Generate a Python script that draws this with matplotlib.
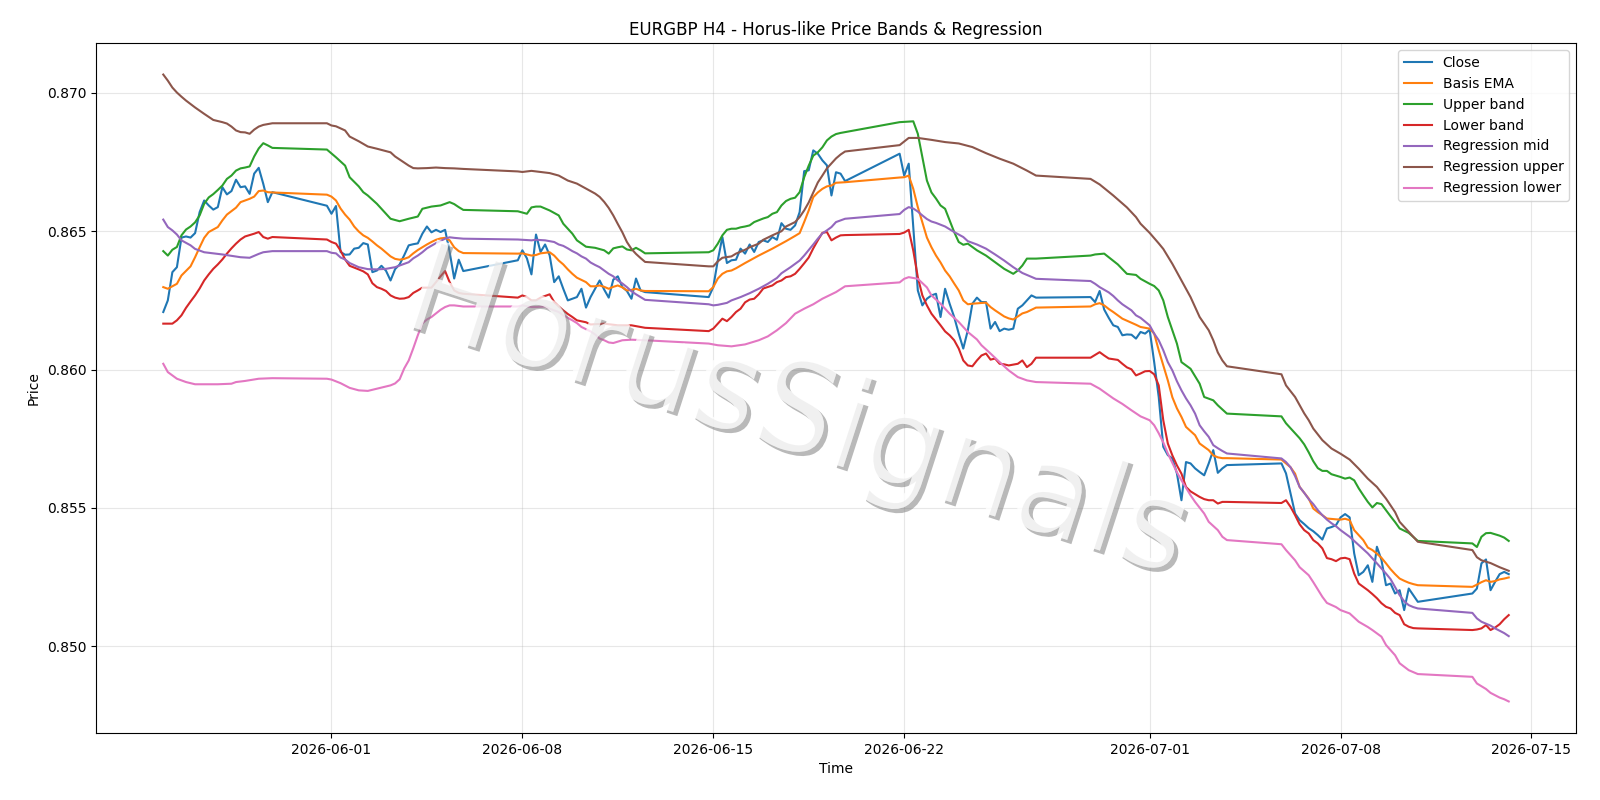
import numpy as np
import pandas as pd
import matplotlib
matplotlib.use("Agg")
import matplotlib.pyplot as plt
import matplotlib.patheffects as pe

# H4 bars (UTC), one run per trading stretch between gaps
seg_starts = ["2026-05-25 20:00", "2026-05-31 20:00", "2026-06-07 20:00", "2026-06-14 20:00",
              "2026-06-21 20:00", "2026-06-28 20:00", "2026-07-05 20:00", "2026-07-12 20:00"]
seg_bars = [25, 31, 29, 31, 31, 31, 31, 9]

close = [
    # week of 05-25
    0.86208, 0.86250, 0.86352, 0.86370, 0.86477, 0.86481, 0.86477, 0.86493, 0.86569, 0.86611,
    0.86593, 0.86578, 0.86587, 0.86659, 0.86633, 0.86645, 0.86686, 0.86659, 0.86662, 0.86635,
    0.86708, 0.86729, 0.86671, 0.86605, 0.86641,
    # week of 06-01
    0.86592, 0.86563, 0.86591, 0.86425, 0.86415, 0.86416, 0.86437, 0.86440, 0.86457, 0.86452,
    0.86352, 0.86358, 0.86375, 0.86357, 0.86322, 0.86363, 0.86380, 0.86413, 0.86449, 0.86453,
    0.86456, 0.86491, 0.86517, 0.86496, 0.86505, 0.86497, 0.86505, 0.86425, 0.86329, 0.86397,
    0.86356,
    # week of 06-08
    0.86395, 0.86431, 0.86402, 0.86344, 0.86488, 0.86425, 0.86452, 0.86413, 0.86316, 0.86337,
    0.86292, 0.86250, 0.86256, 0.86262, 0.86292, 0.86224, 0.86262, 0.86292, 0.86322, 0.86289,
    0.86260, 0.86325, 0.86337, 0.86298, 0.86284, 0.86256, 0.86329, 0.86286, 0.86280,
    # week of 06-15
    0.86262, 0.86298, 0.86395, 0.86479, 0.86385, 0.86395, 0.86397, 0.86437, 0.86419, 0.86452,
    0.86425, 0.86461, 0.86467, 0.86461, 0.86479, 0.86469, 0.86529, 0.86509, 0.86505, 0.86521,
    0.86569, 0.86717, 0.86720, 0.86792, 0.86780, 0.86756, 0.86738, 0.86629, 0.86713, 0.86708,
    0.86681,
    # week of 06-22
    0.86780, 0.86701, 0.86744, 0.86515, 0.86286, 0.86232, 0.86256, 0.86268, 0.86274, 0.86190,
    0.86292, 0.86238, 0.86190, 0.86130, 0.86076, 0.86142, 0.86238, 0.86260, 0.86244, 0.86244,
    0.86148, 0.86172, 0.86139, 0.86148, 0.86144, 0.86148, 0.86220, 0.86232, 0.86250, 0.86268,
    0.86260,
    # week of 06-29
    0.86262, 0.86244, 0.86284, 0.86217, 0.86187, 0.86160, 0.86154, 0.86124, 0.86127, 0.86126,
    0.86112, 0.86136, 0.86130, 0.86144, 0.86027, 0.85901, 0.85721, 0.85691, 0.85679, 0.85625,
    0.85528, 0.85666, 0.85661, 0.85643, 0.85630, 0.85618, 0.85661, 0.85709, 0.85627, 0.85643,
    0.85655,
    # week of 07-06
    0.85661, 0.85625, 0.85552, 0.85480, 0.85456, 0.85442, 0.85427, 0.85416, 0.85402, 0.85386,
    0.85426, 0.85431, 0.85438, 0.85466, 0.85478, 0.85466, 0.85336, 0.85257, 0.85269, 0.85293,
    0.85233, 0.85360, 0.85312, 0.85221, 0.85227, 0.85191, 0.85203, 0.85131, 0.85209, 0.85185,
    0.85161,
    # week of 07-13
    0.85191, 0.85209, 0.85300, 0.85314, 0.85203, 0.85233, 0.85261, 0.85269, 0.85261,
]

# smoother series read at selected bars (bar number, value)
ema_bar = [0, 1, 3, 4, 6, 7, 8, 9, 10, 12, 13, 14, 16, 17, 19, 20, 21, 22, 23, 24,
           25, 26, 27, 28, 29, 30, 31, 32, 33, 34, 35, 36, 37, 38, 39, 40, 41, 42, 43, 44,
           45, 46, 47, 48, 49, 50, 51, 52, 53, 54, 55,
           56, 57, 58, 59, 60, 61, 62, 63, 64, 65, 66, 67, 68, 69, 70, 71, 72, 73, 74, 75,
           76, 77, 78, 79, 80, 81, 82, 83, 84,
           85, 86, 87, 88, 89, 90, 91, 93, 96, 99, 102, 104, 105, 106, 107, 108, 109, 110,
           111, 112, 113, 114, 115,
           116, 117, 118, 119, 120, 121, 122, 123, 124, 125, 126, 127, 128, 129, 130, 131,
           132, 135, 136, 137, 138, 139, 140, 141, 142, 143, 144, 145, 146,
           147, 148, 149, 150, 151, 152, 154, 157, 158, 160, 161, 162, 163, 164, 165, 166,
           167, 168, 170, 171, 173, 174, 175, 176, 177,
           178, 179, 180, 181, 182, 183, 184, 185, 186, 187, 188, 190, 191, 192, 193, 194,
           195, 196, 197, 198, 199, 200, 201, 202, 203, 204, 205, 206, 207, 208,
           209, 210, 211, 212, 213, 214, 215, 216, 217]
ema = [0.86298, 0.86292, 0.86310, 0.86340, 0.86373, 0.86406, 0.86442, 0.86476, 0.86497, 0.86515,
       0.86539, 0.86560, 0.86585, 0.86605, 0.86617, 0.86625, 0.86645, 0.86647, 0.86641, 0.86640,
       0.86632, 0.86625, 0.86611, 0.86582, 0.86560, 0.86542, 0.86517, 0.86499, 0.86485, 0.86476,
       0.86463, 0.86449, 0.86437, 0.86423, 0.86409, 0.86400, 0.86397, 0.86400, 0.86406, 0.86420,
       0.86432, 0.86442, 0.86452, 0.86461, 0.86469, 0.86474, 0.86476, 0.86467, 0.86442, 0.86428,
       0.86421,
       0.86419, 0.86420, 0.86416, 0.86412, 0.86414, 0.86420, 0.86422, 0.86424, 0.86412, 0.86394,
       0.86380, 0.86362, 0.86346, 0.86332, 0.86324, 0.86316, 0.86301, 0.86301, 0.86304, 0.86299,
       0.86292, 0.86299, 0.86304, 0.86297, 0.86286, 0.86288, 0.86292, 0.86286, 0.86284,
       0.86283, 0.86298, 0.86329, 0.86346, 0.86355, 0.86358, 0.86366, 0.86385, 0.86412, 0.86437,
       0.86464, 0.86483, 0.86493, 0.86533, 0.86575, 0.86623, 0.86640, 0.86653, 0.86662, 0.86665,
       0.86675, 0.86676, 0.86677,
       0.86694, 0.86695, 0.86701, 0.86653, 0.86587, 0.86532, 0.86477, 0.86442, 0.86412, 0.86387,
       0.86358, 0.86337, 0.86311, 0.86286, 0.86250, 0.86236, 0.86238, 0.86242, 0.86226, 0.86214,
       0.86203, 0.86192, 0.86185, 0.86181, 0.86192, 0.86203, 0.86208, 0.86216, 0.86224,
       0.86228, 0.86236, 0.86240, 0.86232, 0.86219, 0.86208, 0.86184, 0.86162, 0.86154, 0.86148,
       0.86130, 0.86070, 0.86015, 0.85961, 0.85900, 0.85860, 0.85829, 0.85793, 0.85763, 0.85733,
       0.85709, 0.85690, 0.85683, 0.85680, 0.85680,
       0.85675, 0.85661, 0.85647, 0.85624, 0.85576, 0.85555, 0.85534, 0.85498, 0.85485, 0.85474,
       0.85462, 0.85459, 0.85458, 0.85461, 0.85456, 0.85420, 0.85402, 0.85384, 0.85357, 0.85348,
       0.85335, 0.85320, 0.85300, 0.85279, 0.85261, 0.85245, 0.85237, 0.85230, 0.85225, 0.85221,
       0.85215, 0.85223, 0.85232, 0.85239, 0.85233, 0.85236, 0.85242, 0.85245, 0.85249]

upper_bar = [0, 1, 2, 3, 4, 5, 6, 7, 8, 9, 10, 11, 12, 13, 14, 15, 16, 17, 18, 19, 20, 21, 22, 23, 24,
             25, 26, 27, 29, 30, 32, 33, 34, 36, 38, 39, 41, 43, 45, 46, 48, 50, 52, 53, 54, 55,
             56, 58, 59, 60, 61, 63, 65, 66, 68, 69, 71, 73, 75, 76, 77, 78, 79, 80, 81, 82, 83, 84,
             85, 86, 87, 88, 89, 90, 91, 92, 93, 94, 95, 97, 98, 99, 100, 101, 102, 103, 104, 105,
             106, 107, 108, 109, 110, 111, 112, 113, 114, 115,
             116, 119, 120, 121, 122, 123, 124, 125, 126, 127, 128, 129, 130, 131, 133, 135, 137,
             139, 141, 142, 143, 144, 146,
             147, 148, 150, 151, 153, 155, 157, 158, 160, 161, 162, 163, 164, 166, 167, 169, 171,
             172, 174, 175, 177,
             178, 179, 180, 181, 182, 183, 184, 185, 186, 187, 188, 189, 191, 192, 193, 194, 195,
             196, 197, 198, 199, 200, 201, 202, 203, 204, 206, 208,
             209, 210, 211, 212, 213, 214, 215, 216, 217]
upper = [0.86428, 0.86412, 0.86433, 0.86443, 0.86485, 0.86506, 0.86517, 0.86532, 0.86557, 0.86599,
         0.86622, 0.86634, 0.86649, 0.86665, 0.86689, 0.86701, 0.86719, 0.86727, 0.86730, 0.86734,
         0.86770, 0.86799, 0.86818, 0.86810, 0.86801,
         0.86795, 0.86781, 0.86767, 0.86737, 0.86695, 0.86662, 0.86641, 0.86629, 0.86599, 0.86563,
         0.86545, 0.86536, 0.86545, 0.86553, 0.86581, 0.86589, 0.86593, 0.86605, 0.86598, 0.86587,
         0.86577,
         0.86572, 0.86563, 0.86586, 0.86589, 0.86589, 0.86575, 0.86557, 0.86527, 0.86491, 0.86467,
         0.86444, 0.86440, 0.86431, 0.86419, 0.86438, 0.86442, 0.86445, 0.86434, 0.86431, 0.86440,
         0.86431, 0.86420,
         0.86424, 0.86431, 0.86455, 0.86485, 0.86505, 0.86509, 0.86509, 0.86514, 0.86517, 0.86521,
         0.86533, 0.86546, 0.86551, 0.86563, 0.86569, 0.86593, 0.86609, 0.86617, 0.86621, 0.86641,
         0.86695, 0.86737, 0.86773, 0.86785, 0.86803, 0.86828, 0.86842, 0.86851, 0.86855, 0.86858,
         0.86894, 0.86897, 0.86852, 0.86767, 0.86683, 0.86640, 0.86618, 0.86593, 0.86581, 0.86539,
         0.86497, 0.86461, 0.86451, 0.86455, 0.86431, 0.86412, 0.86388, 0.86364, 0.86346, 0.86358,
         0.86376, 0.86401, 0.86401,
         0.86412, 0.86416, 0.86419, 0.86406, 0.86380, 0.86346, 0.86342, 0.86328, 0.86310, 0.86302,
         0.86286, 0.86250, 0.86190, 0.86094, 0.86027, 0.86003, 0.85949, 0.85901, 0.85889, 0.85871,
         0.85841,
         0.85831, 0.85806, 0.85788, 0.85770, 0.85752, 0.85730, 0.85701, 0.85669, 0.85644, 0.85634,
         0.85634, 0.85622, 0.85612, 0.85606, 0.85610, 0.85600, 0.85571, 0.85546, 0.85522, 0.85502,
         0.85518, 0.85514, 0.85492, 0.85470, 0.85449, 0.85426, 0.85410, 0.85381,
         0.85372, 0.85359, 0.85396, 0.85409, 0.85410, 0.85405, 0.85400, 0.85393, 0.85381]

lower_bar = [0, 2, 3, 4, 5, 6, 7, 8, 9, 10, 11, 12, 13, 14, 15, 16, 17, 18, 19, 20, 21, 22, 23, 24,
             25, 26, 27, 28, 29, 30, 32, 33, 34, 35, 36, 37, 38, 39, 40, 41, 42, 43, 44, 45, 46, 48,
             49, 50, 51, 52, 53, 54, 55,
             56, 57, 58, 59, 60, 61, 63, 64, 65, 66, 67, 68, 69, 71, 72, 75, 78, 81, 84,
             85, 86, 87, 88, 89, 90, 91, 92, 93, 94, 95, 96, 97, 99, 100, 101, 102, 103, 104, 105,
             106, 107, 108, 109, 110, 111, 112, 113, 114, 115,
             116, 117, 118, 119, 120, 121, 122, 123, 124, 125, 126, 127, 128, 129, 130, 131, 132,
             133, 134, 135, 136, 137, 138, 139, 140, 141, 142, 143, 144, 145, 146,
             147, 149, 150, 151, 153, 154, 155, 156, 157, 158, 159, 160, 161, 162, 163, 164, 165,
             166, 167, 168, 169, 170, 171, 172, 173, 174, 175, 176, 177,
             178, 179, 180, 181, 182, 183, 184, 185, 186, 187, 188, 189, 190, 191, 192, 193, 194,
             195, 196, 197, 198, 199, 200, 201, 202, 203, 204, 205, 206, 207, 208,
             209, 210, 211, 212, 213, 214, 215, 216, 217]
lower = [0.86166, 0.86166, 0.86178, 0.86196, 0.86223, 0.86246, 0.86268, 0.86293, 0.86322, 0.86344,
         0.86364, 0.86380, 0.86398, 0.86419, 0.86438, 0.86455, 0.86470, 0.86481, 0.86486, 0.86491,
         0.86497, 0.86479, 0.86473, 0.86479,
         0.86470, 0.86461, 0.86455, 0.86430, 0.86398, 0.86375, 0.86362, 0.86355, 0.86344, 0.86312,
         0.86298, 0.86292, 0.86284, 0.86268, 0.86260, 0.86256, 0.86257, 0.86262, 0.86277, 0.86286,
         0.86296, 0.86296, 0.86316, 0.86337, 0.86356, 0.86316, 0.86286, 0.86277, 0.86274,
         0.86260, 0.86268, 0.86262, 0.86250, 0.86250, 0.86260, 0.86272, 0.86244, 0.86228, 0.86214,
         0.86201, 0.86190, 0.86178, 0.86171, 0.86163, 0.86166, 0.86160, 0.86160, 0.86151,
         0.86139, 0.86148, 0.86166, 0.86184, 0.86175, 0.86190, 0.86208, 0.86220, 0.86243, 0.86253,
         0.86256, 0.86272, 0.86293, 0.86304, 0.86316, 0.86322, 0.86334, 0.86337, 0.86346, 0.86364,
         0.86384, 0.86405, 0.86438, 0.86467, 0.86494, 0.86497, 0.86467, 0.86477, 0.86485, 0.86486,
         0.86490, 0.86495, 0.86505, 0.86430, 0.86334, 0.86268, 0.86232, 0.86202, 0.86181, 0.86160,
         0.86138, 0.86124, 0.86106, 0.86076, 0.86033, 0.86015, 0.86012, 0.86033, 0.86051, 0.86058,
         0.86036, 0.86040, 0.86021, 0.86019, 0.86015, 0.86018, 0.86021, 0.86033, 0.86009, 0.86021,
         0.86043,
         0.86043, 0.86063, 0.86051, 0.86040, 0.86035, 0.86021, 0.86008, 0.86001, 0.85979, 0.85986,
         0.85994, 0.85995, 0.85983, 0.85943, 0.85817, 0.85733, 0.85690, 0.85654, 0.85624, 0.85576,
         0.85560, 0.85550, 0.85540, 0.85532, 0.85528, 0.85528, 0.85516, 0.85522, 0.85522,
         0.85518, 0.85528, 0.85504, 0.85474, 0.85441, 0.85420, 0.85408, 0.85384, 0.85372, 0.85354,
         0.85319, 0.85315, 0.85308, 0.85318, 0.85320, 0.85315, 0.85263, 0.85227, 0.85215, 0.85203,
         0.85189, 0.85174, 0.85156, 0.85143, 0.85137, 0.85121, 0.85113, 0.85080, 0.85071, 0.85066,
         0.85065,
         0.85059, 0.85061, 0.85065, 0.85077, 0.85059, 0.85068, 0.85080, 0.85098, 0.85113]

reg_mid_bar = [0, 1, 2, 3, 4, 5, 6, 7, 9, 11, 13, 15, 17, 19, 20, 21, 22, 24,
               25, 26, 27, 28, 29, 30, 32, 34, 36, 38, 40, 41, 43, 44, 45, 46, 47, 49, 51, 52, 53, 55,
               56, 57, 59, 60, 62, 64, 65, 66, 67, 68, 69, 70, 71, 72, 73, 74, 75, 76, 77, 78, 79,
               80, 81, 82, 83, 84,
               85, 86, 87, 89, 90, 92, 94, 96, 98, 100, 101, 103, 104, 105, 106, 107, 108, 109, 110,
               111, 112, 113, 114, 115,
               116, 117, 118, 119, 120, 121, 122, 123, 124, 126, 128, 130, 131, 133, 135, 137, 139,
               141, 143, 146,
               147, 148, 149, 151, 152, 153, 154, 155, 156, 157, 158, 160, 161, 162, 163, 164, 165,
               166, 167, 168, 169, 170, 171, 172, 173, 174, 175, 176, 177,
               178, 179, 180, 181, 182, 183, 184, 185, 186, 187, 188, 189, 190, 191, 193, 195, 197,
               199, 201, 202, 203, 204, 205, 206, 207, 208,
               209, 210, 211, 213, 214, 216, 217]
reg_mid = [0.86542, 0.86515, 0.86503, 0.86488, 0.86467, 0.86458, 0.86449, 0.86436, 0.86424, 0.86420,
           0.86416, 0.86411, 0.86406, 0.86404, 0.86411, 0.86418, 0.86424, 0.86428,
           0.86428, 0.86422, 0.86420, 0.86405, 0.86398, 0.86385, 0.86370, 0.86363, 0.86362, 0.86364,
           0.86370, 0.86376, 0.86388, 0.86402, 0.86412, 0.86424, 0.86438, 0.86457, 0.86473, 0.86478,
           0.86476, 0.86473,
           0.86470, 0.86469, 0.86467, 0.86469, 0.86467, 0.86461, 0.86452, 0.86447, 0.86438, 0.86428,
           0.86420, 0.86409, 0.86401, 0.86387, 0.86378, 0.86370, 0.86358, 0.86346, 0.86337, 0.86322,
           0.86311, 0.86298, 0.86283, 0.86272, 0.86262, 0.86252,
           0.86236, 0.86232, 0.86234, 0.86241, 0.86250, 0.86262, 0.86276, 0.86292, 0.86310, 0.86331,
           0.86348, 0.86370, 0.86382, 0.86394, 0.86412, 0.86432, 0.86452, 0.86473, 0.86492, 0.86503,
           0.86515, 0.86533, 0.86539, 0.86545,
           0.86562, 0.86577, 0.86587, 0.86582, 0.86571, 0.86557, 0.86544, 0.86535, 0.86530, 0.86517,
           0.86497, 0.86479, 0.86464, 0.86452, 0.86437, 0.86416, 0.86394, 0.86370, 0.86349, 0.86328,
           0.86320, 0.86310, 0.86298, 0.86279, 0.86266, 0.86250, 0.86236, 0.86225, 0.86214, 0.86196,
           0.86187, 0.86160, 0.86130, 0.86106, 0.86070, 0.86027, 0.85997, 0.85958, 0.85925, 0.85896,
           0.85871, 0.85841, 0.85799, 0.85777, 0.85757, 0.85727, 0.85716, 0.85706, 0.85697,
           0.85679, 0.85666, 0.85647, 0.85615, 0.85576, 0.85555, 0.85532, 0.85514, 0.85492, 0.85474,
           0.85458, 0.85445, 0.85434, 0.85420, 0.85396, 0.85366, 0.85336, 0.85300, 0.85263, 0.85243,
           0.85214, 0.85185, 0.85163, 0.85149, 0.85142, 0.85137,
           0.85121, 0.85101, 0.85089, 0.85075, 0.85065, 0.85048, 0.85037]

reg_up_bar = [0, 1, 2, 3, 4, 5, 7, 9, 11, 13, 14, 15, 16, 17, 18, 19, 20, 21, 22, 24,
              25, 26, 27, 29, 30, 32, 34, 36, 39, 40, 41, 42, 43, 44, 45, 47, 49, 51, 53, 55,
              56, 57, 59, 61, 63, 65, 67, 69, 71, 72, 73, 74, 75, 76, 77, 78, 79, 80, 81, 82, 83, 84,
              85, 86, 87, 88, 90, 91, 93, 94, 96, 97, 99, 101, 102, 104, 105, 106, 107, 108, 109,
              110, 111, 112, 113, 114, 115,
              116, 118, 120, 123, 126, 129, 132, 135, 138, 141, 144, 146,
              147, 149, 152, 155, 157, 158, 160, 162, 163, 165, 167, 169, 171, 173, 174, 175, 176, 177,
              178, 179, 181, 183, 184, 185, 187, 189, 191, 193, 195, 197, 199, 201, 203, 204, 206, 208,
              209, 210, 211, 213, 215, 217]
reg_up = [0.87066, 0.87044, 0.87019, 0.87001, 0.86986, 0.86972, 0.86947, 0.86924, 0.86902, 0.86894,
          0.86889, 0.86878, 0.86864, 0.86858, 0.86857, 0.86852, 0.86867, 0.86878, 0.86884, 0.86890,
          0.86890, 0.86882, 0.86879, 0.86864, 0.86842, 0.86825, 0.86806, 0.86798, 0.86785, 0.86770,
          0.86759, 0.86748, 0.86737, 0.86728, 0.86727, 0.86728, 0.86730, 0.86728, 0.86727, 0.86725,
          0.86716, 0.86714, 0.86718, 0.86714, 0.86710, 0.86701, 0.86683, 0.86672, 0.86654, 0.86645,
          0.86636, 0.86624, 0.86606, 0.86584, 0.86557, 0.86526, 0.86496, 0.86461, 0.86436, 0.86418,
          0.86403, 0.86389,
          0.86373, 0.86373, 0.86391, 0.86404, 0.86409, 0.86419, 0.86433, 0.86442, 0.86455, 0.86469,
          0.86485, 0.86500, 0.86517, 0.86533, 0.86551, 0.86575, 0.86604, 0.86640, 0.86676, 0.86701,
          0.86727, 0.86745, 0.86763, 0.86777, 0.86788,
          0.86811, 0.86837, 0.86837, 0.86830, 0.86822, 0.86817, 0.86804, 0.86782, 0.86762, 0.86744,
          0.86719, 0.86701,
          0.86689, 0.86669, 0.86629, 0.86586, 0.86551, 0.86527, 0.86494, 0.86456, 0.86436, 0.86382,
          0.86322, 0.86262, 0.86190, 0.86142, 0.86106, 0.86062, 0.86033, 0.86012,
          0.85983, 0.85943, 0.85901, 0.85842, 0.85817, 0.85787, 0.85745, 0.85715, 0.85696, 0.85675,
          0.85642, 0.85606, 0.85576, 0.85534, 0.85485, 0.85450, 0.85414, 0.85378,
          0.85348, 0.85322, 0.85311, 0.85301, 0.85286, 0.85273]

reg_lo_bar = [0, 1, 3, 5, 7, 12, 15, 16, 18, 21, 24,
              25, 26, 28, 30, 32, 34, 36, 39, 40, 41, 42, 43, 44, 45, 46, 47, 48, 49, 50, 51, 52, 53, 55,
              56, 57, 59, 60, 62, 63, 65, 66, 68, 69, 70, 72, 73, 74, 75, 76, 77, 79, 81, 84,
              85, 87, 90, 93, 96, 98, 100, 102, 104, 106, 108, 110, 113, 115,
              116, 117, 118, 120, 122, 123, 125, 127, 129, 131, 133, 134, 136, 138, 140, 142, 144, 146,
              147, 149, 152, 154, 156, 158, 160, 161, 162, 163, 164, 166, 167, 169, 170, 172, 173,
              175, 176, 177,
              178, 179, 181, 182, 184, 185, 187, 188, 190, 191, 193, 195, 197, 198, 200, 201, 203,
              204, 206, 208,
              209, 210, 212, 213, 215, 216, 217]
reg_lo = [0.86021, 0.85991, 0.85967, 0.85955, 0.85947, 0.85947, 0.85949, 0.85955, 0.85959, 0.85967,
          0.85969,
          0.85967, 0.85964, 0.85951, 0.85934, 0.85925, 0.85923, 0.85931, 0.85943, 0.85950, 0.85965,
          0.86004, 0.86033, 0.86077, 0.86124, 0.86167, 0.86181, 0.86190, 0.86203, 0.86216, 0.86226,
          0.86232, 0.86232, 0.86228,
          0.86228, 0.86232, 0.86226, 0.86226, 0.86228, 0.86220, 0.86208, 0.86196, 0.86178, 0.86168,
          0.86154, 0.86138, 0.86127, 0.86112, 0.86106, 0.86098, 0.86096, 0.86106, 0.86108, 0.86106,
          0.86094, 0.86088, 0.86084, 0.86091, 0.86106, 0.86120, 0.86142, 0.86168, 0.86202, 0.86220,
          0.86236, 0.86256, 0.86280, 0.86301,
          0.86315, 0.86328, 0.86334, 0.86328, 0.86297, 0.86268, 0.86238, 0.86202, 0.86172, 0.86136,
          0.86109, 0.86088, 0.86058, 0.86027, 0.85997, 0.85973, 0.85961, 0.85955,
          0.85949, 0.85931, 0.85896, 0.85876, 0.85853, 0.85831, 0.85817, 0.85799, 0.85770, 0.85737,
          0.85697, 0.85629, 0.85600, 0.85546, 0.85522, 0.85480, 0.85450, 0.85420, 0.85396, 0.85384,
          0.85369, 0.85348, 0.85311, 0.85286, 0.85257, 0.85232, 0.85179, 0.85157, 0.85142, 0.85131,
          0.85119, 0.85089, 0.85070, 0.85059, 0.85035, 0.85005, 0.84968, 0.84939, 0.84914, 0.84900,
          0.84890, 0.84866, 0.84846, 0.84832, 0.84815, 0.84809, 0.84801]

times = pd.DatetimeIndex(np.concatenate(
    [pd.date_range(s, periods=n, freq="4h").values for s, n in zip(seg_starts, seg_bars)]))

fig, ax = plt.subplots(figsize=(16, 8), dpi=100)
fig.subplots_adjust(left=0.06, right=0.985, top=0.946, bottom=0.084)

ax.plot(times, close, label="Close")
ax.plot(times[ema_bar], ema, label="Basis EMA")
ax.plot(times[upper_bar], upper, label="Upper band")
ax.plot(times[lower_bar], lower, label="Lower band")
ax.plot(times[reg_mid_bar], reg_mid, label="Regression mid")
ax.plot(times[reg_up_bar], reg_up, label="Regression upper")
ax.plot(times[reg_lo_bar], reg_lo, label="Regression lower")

ax.set_title("EURGBP H4 - Horus-like Price Bands & Regression")
ax.set_xlabel("Time")
ax.set_ylabel("Price")
ax.grid(True, alpha=0.3)
ax.legend(loc="upper right")

# watermark
ax.text(0.473, 0.46, "HorusSignals", transform=ax.transAxes, fontsize=90,
        color="white", alpha=0.55, rotation=-18, ha="center", va="center", zorder=5,
        path_effects=[pe.withSimplePatchShadow(offset=(3, -3), shadow_rgbFace="gray", alpha=0.55),
                      pe.Normal()])

fig.savefig("out.png")
